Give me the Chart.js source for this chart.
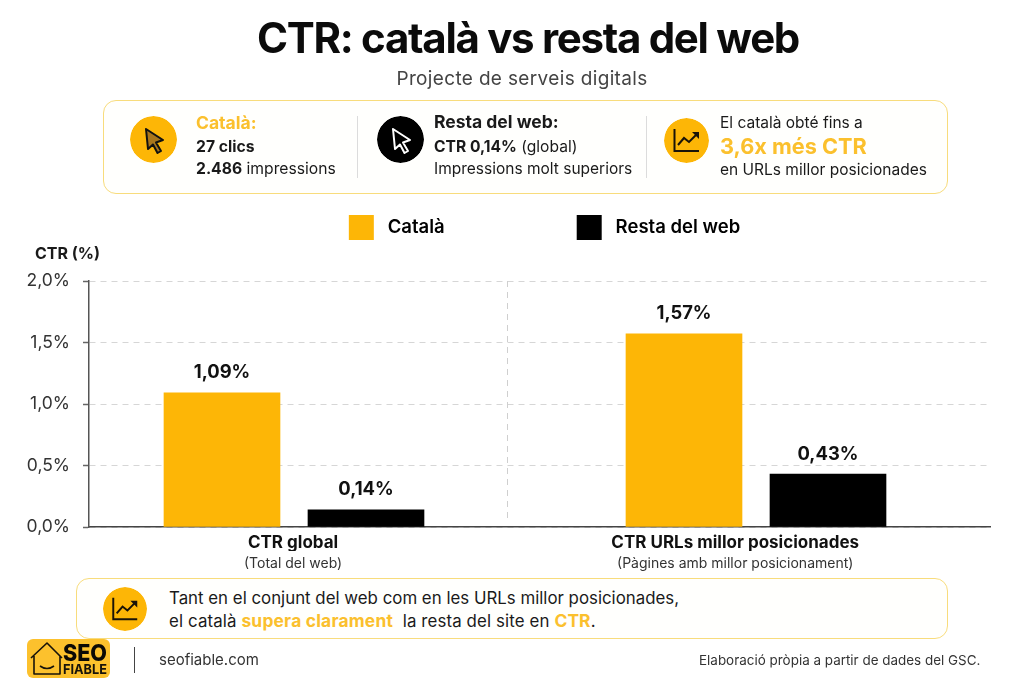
<!DOCTYPE html>
<html lang="ca">
<head>
<meta charset="utf-8">
<title>CTR: català vs resta del web</title>
<script src="https://cdn.jsdelivr.net/npm/chart.js@4"></script>
<style>
  html, body { margin: 0; padding: 0; background: #fff; overflow: hidden; }
  body { width: 1024px; height: 683px; position: relative; font-family: Inter, "Noto Sans", sans-serif; color: #1a1a1a; }
  canvas { position: absolute; left: 0; top: 0; }
  .t { position: absolute; white-space: nowrap; line-height: 20px; z-index: 2; }
  .b { font-weight: 700; }
  .y { color: #fbc02d; font-weight: 700; }
  .card { position: absolute; box-sizing: border-box; border: 1.5px solid #f8dc7c; border-radius: 13px; background: #fffffd; }
  .rule { position: absolute; width: 1px; background: #dcdcdc; }
  .disc { position: absolute; border-radius: 50%; display: block; }
</style>
</head>
<body>
<div class="t" id="title" style="left:0;width:1056px;text-align:center;top:14px;line-height:48px;font-size:42px;font-weight:700;letter-spacing:-1.3px;color:#0b0b0b">CTR: català vs resta del web</div>
<div class="t" style="left:0;width:1044px;text-align:center;top:69px;font-size:19px;letter-spacing:.35px;color:#444">Projecte de serveis digitals</div>

<div class="card" style="left:103px;top:100px;width:845px;height:94px"></div>
<div class="rule" style="left:357px;top:116px;height:62px"></div>
<div class="rule" style="left:646px;top:116px;height:62px"></div>

<svg class="disc" style="left:130px;top:116px;z-index:2" width="47" height="47" viewBox="0 0 47 47">
  <circle cx="23.5" cy="23.5" r="23.5" fill="#fdb606"/>
  <path d="M16 13 L33 24 L26 26.5 L31 35 L27.5 37 L23 28.5 L18 33 Z" fill="#a9761c" stroke="#111" stroke-width="2" stroke-linejoin="round"/>
</svg>
<svg class="disc" style="left:377px;top:116px;z-index:2" width="47" height="47" viewBox="0 0 47 47">
  <circle cx="23.5" cy="23.5" r="23.5" fill="#000"/>
  <path d="M16 13 L33 24 L26 26.5 L31 35 L27.5 37 L23 28.5 L18 33 Z" fill="#000" stroke="#fff" stroke-width="2" stroke-linejoin="round"/>
</svg>
<svg class="disc" style="left:664px;top:118px;z-index:2" width="45" height="45" viewBox="0 0 45 45">
  <circle cx="22.5" cy="22.5" r="22.5" fill="#fdb606"/>
  <path d="M10.5 11 V33 H35" fill="none" stroke="#1a1408" stroke-width="2"/>
  <path d="M14 27 L20 20 L25 24 L34 15" fill="none" stroke="#1a1408" stroke-width="2"/>
  <path d="M28 14 H35 V21 Z" fill="#1a1408"/>
</svg>

<div class="t y" style="left:196px;top:113px;font-size:17.5px">Català:</div>
<div class="t b" style="left:196px;top:137px;font-size:15.7px">27 clics</div>
<div class="t" style="left:196px;top:159px;font-size:15.7px"><span class="b">2.486</span> impressions</div>

<div class="t b" style="left:434px;top:112px;font-size:17.5px">Resta del web:</div>
<div class="t" style="left:434px;top:137px;font-size:15.6px"><span class="b">CTR 0,14%</span> (global)</div>
<div class="t" style="left:434px;top:159px;font-size:15.5px">Impressions molt superiors</div>

<div class="t" style="left:720px;top:113px;font-size:15.5px">El català obté fins a</div>
<div class="t y" style="left:720px;top:136px;font-size:21.7px">3,6x més CTR</div>
<div class="t" style="left:720px;top:160px;font-size:15.5px">en URLs millor posicionades</div>

<div class="t b" style="left:35px;top:243px;font-size:16px">CTR (%)</div>

<canvas id="ctrChart" width="1024" height="683"></canvas>

<div class="card" style="left:76px;top:578px;width:872px;height:61px;z-index:1"></div>
<svg class="disc" style="left:103px;top:587px;z-index:2" width="44" height="44" viewBox="0 0 45 45">
  <circle cx="22.5" cy="22.5" r="22.5" fill="#fdb606"/>
  <path d="M10.5 11 V33 H35" fill="none" stroke="#1a1408" stroke-width="2"/>
  <path d="M14 27 L20 20 L25 24 L34 15" fill="none" stroke="#1a1408" stroke-width="2"/>
  <path d="M28 14 H35 V21 Z" fill="#1a1408"/>
</svg>
<div class="t" style="left:169px;top:588px;font-size:16.85px">Tant en el conjunt del web com en les URLs millor posicionades,</div>
<div class="t" style="left:169px;top:611px;font-size:16.85px;letter-spacing:.12px">el català <span class="y" style="font-size:17.4px;letter-spacing:.2px">supera clarament</span>&nbsp; la resta del site en <span class="y" style="font-size:17.4px">CTR</span>.</div>

<svg style="position:absolute;left:27px;top:639px;z-index:2" width="84" height="39" viewBox="0 0 84 39">
  <rect width="83" height="39" rx="6" fill="#fcc12d"/>
  <path d="M4 19 L20 4 L35 19 M7 17 V35 H33 V17" fill="none" stroke="#17130a" stroke-width="1.6" stroke-linejoin="round"/>
  <path d="M13 27 Q20 32 27 27" fill="none" stroke="#17130a" stroke-width="1.6"/>
  <text x="36" y="21.5" font-family="Inter" font-weight="800" font-size="23" textLength="44" lengthAdjust="spacingAndGlyphs" fill="#0c0a05">SEO</text>
  <text x="36" y="34.5" font-family="Inter" font-weight="700" font-size="13.5" textLength="44" lengthAdjust="spacingAndGlyphs" fill="#17130a">FIABLE</text>
</svg>
<div style="position:absolute;left:134px;top:647px;width:1.3px;height:26px;background:#444"></div>
<div class="t" style="left:159px;top:650px;font-size:15px;color:#333">seofiable.com</div>
<div class="t" style="left:699px;top:650px;font-size:13.45px;color:#333">Elaboració pròpia a partir de dades del GSC.</div>

<script>
// Chart values
const categories = ['CTR global', 'CTR URLs millor posicionades'];
const categoryNotes = ['(Total del web)', '(Pàgines amb millor posicionament)'];
const groupIndex = [0, 1];
const catalaCtr = [1.09, 1.57];
const restaCtr = [0.14, 0.43];
const seriesNames = ['Català', 'Resta del web'];
const seriesColors = ['#fdb606', '#000000'];

// Axis layout, expressed in group units along the horizontal scale
const X_MIN = -0.4437, X_MAX = 1.5065;
const LABEL_ANCHORS = [-0.002, 0.955];
const SEPARATOR_AT = 0.461;

const pct = (v, digits) => v.toFixed(digits).replace('.', ',') + '%';
const pairs = vals => vals.map((y, i) => ({ x: groupIndex[i], y }));

const anchoredTicks = axis => { axis.ticks = LABEL_ANCHORS.map(value => ({ value })); };

// Dashed divider between the two groups
const separator = {
  id: 'separator',
  beforeDatasetsDraw(chart) {
    const { ctx, chartArea, scales } = chart;
    const x = Math.round(scales.x.getPixelForValue(SEPARATOR_AT)) + 0.5;
    ctx.save();
    ctx.strokeStyle = '#cfcfcf';
    ctx.lineWidth = 1;
    ctx.setLineDash([6, 5]);
    ctx.beginPath();
    ctx.moveTo(x, chartArea.top);
    ctx.lineTo(x, chartArea.bottom - 6);
    ctx.stroke();
    ctx.restore();
  }
};

// Value printed above each bar
const valueLabels = {
  id: 'valueLabels',
  afterDatasetsDraw(chart) {
    const { ctx } = chart;
    ctx.save();
    ctx.font = '700 18.4px Inter';
    ctx.fillStyle = '#111';
    ctx.textAlign = 'center';
    ctx.textBaseline = 'middle';
    chart.data.datasets.forEach((ds, d) => {
      chart.getDatasetMeta(d).data.forEach((bar, i) => {
        ctx.fillText(pct(ds.data[i].y, 2), bar.x, bar.y - 20);
      });
    });
    ctx.restore();
  }
};

// Place the legend row over the group pair, just below the summary card
const legendShift = {
  id: 'legendShift',
  afterLayout(chart) {
    chart.legend.left += 5;
    chart.legend.right += 5;
    chart.legend.top = 83;
  }
};

new Chart(document.getElementById('ctrChart'), {
  type: 'bar',
  data: {
    datasets: [
      { label: seriesNames[0], data: pairs(catalaCtr), backgroundColor: seriesColors[0] },
      { label: seriesNames[1], data: pairs(restaCtr), backgroundColor: seriesColors[1] }
    ]
  },
  options: {
    responsive: false,
    animation: false,
    events: [],
    layout: { padding: { left: 0, right: 34, top: 114, bottom: 112 } },
    datasets: { bar: { barThickness: 144, maxBarThickness: 116, grouped: true } },
    plugins: {
      tooltip: { enabled: false },
      legend: {
        position: 'top',
        fullSize: false,
        maxHeight: 200,
        labels: {
          boxWidth: 25,
          boxHeight: 25,
          padding: 132,
          color: '#1a1a1a',
          font: { family: 'Inter', size: 18.5, weight: '600' },
          generateLabels: chart => chart.data.datasets.map((ds, i) => ({
            text: ' ' + ds.label,
            fillStyle: ds.backgroundColor,
            strokeStyle: ds.backgroundColor,
            lineWidth: 0,
            datasetIndex: i
          }))
        }
      }
    },
    scales: {
      x: {
        type: 'linear',
        position: 'bottom',
        min: X_MIN,
        max: X_MAX,
        offset: false,
        grid: { display: false, drawTicks: false, offset: false },
        border: { display: true, color: '#444', width: 1.5 },
        afterBuildTicks: anchoredTicks,
        afterFit(axis) { axis.height = 24; },
        ticks: {
          autoSkip: false,
          maxRotation: 0,
          padding: 6,
          color: '#111',
          font: { family: 'Inter', size: 17, weight: '700' },
          callback: (v, i) => categories[i]
        }
      },
      x2: {
        type: 'linear',
        position: 'bottom',
        min: X_MIN,
        max: X_MAX,
        offset: false,
        grid: { display: false, drawTicks: false, offset: false },
        border: { display: false },
        afterBuildTicks: anchoredTicks,
        afterFit(axis) { axis.height = 20; },
        ticks: {
          autoSkip: false,
          maxRotation: 0,
          padding: 4,
          color: '#333',
          font: { family: 'Inter', size: 14 },
          callback: (v, i) => categoryNotes[i]
        }
      },
      y: {
        min: 0,
        max: 2,
        afterFit(axis) { axis.width = 89; },
        grid: { color: '#d6d6d6', lineWidth: 1, tickColor: '#666', tickLength: 6, tickWidth: 1.5 },
        border: { display: true, color: '#555', width: 1.5, dash: [6, 5] },
        ticks: {
          stepSize: 0.5,
          padding: 13,
          color: '#333',
          font: { family: 'Inter', size: 17.5 },
          callback: v => pct(v, 1)
        }
      }
    }
  },
  plugins: [separator, valueLabels, legendShift]
});
</script>
</body>
</html>
